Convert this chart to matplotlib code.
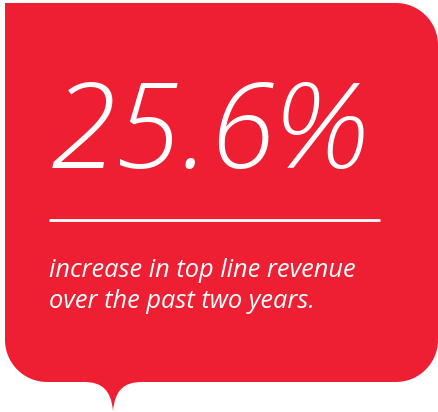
import matplotlib.pyplot as plt
from matplotlib.path import Path
from matplotlib.patches import PathPatch

# content
headline = "25.6%"
caption = ["increase in top line revenue", "over the past two years."]

red = "#EE1F33"

fig = plt.figure(figsize=(4.38, 4.12), dpi=100)
ax = fig.add_axes([0, 0, 1, 1])
ax.set_xlim(0, 438)
ax.set_ylim(412, 0)
ax.axis("off")

# speech bubble outline (pixel coords, y down)
L, T, R, B = 5, 3, 438, 382
r = 42
verts = [
    (L, T), (R - r, T),
    (R - r * 0.45, T), (R, T + r * 0.45), (R, T + r),
    (R, B - r),
    (R, B - r * 0.45), (R - r * 0.45, B), (R - r, B),
    (142, B),
    (124, B), (115, B + 8), (113, 411),
    (111, B + 8), (102, B), (84, B),
    (L + r, B),
    (L + r * 0.45, B), (L, B - r * 0.45), (L, B - r),
    (L, T),
]
codes = [Path.MOVETO, Path.LINETO,
         Path.CURVE4, Path.CURVE4, Path.CURVE4,
         Path.LINETO,
         Path.CURVE4, Path.CURVE4, Path.CURVE4,
         Path.LINETO,
         Path.CURVE4, Path.CURVE4, Path.CURVE4,
         Path.CURVE4, Path.CURVE4, Path.CURVE4,
         Path.LINETO,
         Path.CURVE4, Path.CURVE4, Path.CURVE4,
         Path.CLOSEPOLY]
ax.add_patch(PathPatch(Path(verts, codes), facecolor=red, edgecolor="none"))

font = ["Open Sans", "DejaVu Sans"]
ax.text(50, 168, headline, color="white", fontsize=86, style="italic",
        weight="light", family=font, ha="left", va="baseline")

ax.plot([49, 380], [220, 220], color="white", lw=2, solid_capstyle="butt")

for i, line in enumerate(caption):
    ax.text(49, 277 + i * 31, line, color="white", fontsize=18.3, style="italic",
            family=font, ha="left", va="baseline")

fig.savefig("out.png", dpi=100)
